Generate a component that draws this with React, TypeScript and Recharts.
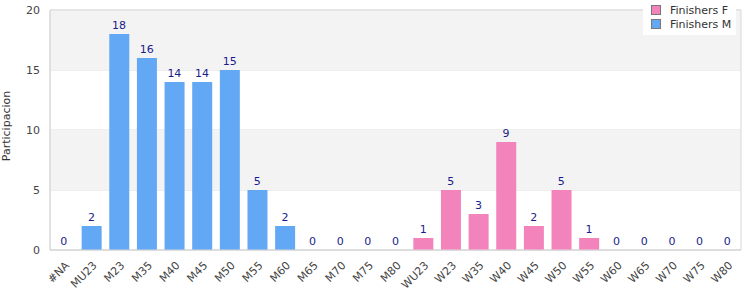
import { ComposedChart, Bar, Line, XAxis, YAxis, CartesianGrid, ReferenceArea, LabelList } from 'recharts';

const categories = ['#NA', 'MU23', 'M23', 'M35', 'M40', 'M45', 'M50', 'M55', 'M60', 'M65', 'M70', 'M75', 'M80',
  'WU23', 'W23', 'W35', 'W40', 'W45', 'W50', 'W55', 'W60', 'W65', 'W70', 'W75', 'W80'];
const finishersF = [0, 0, 0, 0, 0, 0, 0, 0, 0, 0, 0, 0, 0, 1, 5, 3, 9, 2, 5, 1, 0, 0, 0, 0, 0];
const finishersM = [0, 2, 18, 16, 14, 14, 15, 5, 2, 0, 0, 0, 0, 0, 0, 0, 0, 0, 0, 0, 0, 0, 0, 0, 0];
const yTicks = [0, 5, 10, 15, 20];

const data = categories.map((c, i) => ({ cat: c, f: finishersF[i], m: finishersM[i], total: finishersF[i] + finishersM[i] }));

const FONT = 'DejaVu Sans, sans-serif';

function LegendBox() {
  const items = [
    { name: 'Finishers F', color: '#f283bb' },
    { name: 'Finishers M', color: '#62a8f5' },
  ];
  return (
    <div style={{ position: 'absolute', left: 643, top: 0, width: 93, background: '#fff', padding: '3px 0 4px 8px', boxSizing: 'border-box', fontFamily: FONT, fontSize: 11, color: '#333' }}>
      {items.map((it) => (
        <div key={it.name} style={{ display: 'flex', alignItems: 'center', height: 14 }}>
          <span style={{ width: 8, height: 8, background: it.color, border: '1px solid #777', marginRight: 9, display: 'inline-block' }} />
          {it.name}
        </div>
      ))}
    </div>
  );
}

function XTick(props: any) {
  const { x, y, payload } = props;
  return (
    <text x={x + 4} y={y + 6} transform={`rotate(-45, ${x + 4}, ${y + 6})`} textAnchor="end" dominantBaseline="middle"
      fontSize={11} fontFamily={FONT} fill="#444">
      {payload.value}
    </text>
  );
}

function YLabel(props: any) {
  const vb = props.viewBox || {};
  const cy = (vb.y || 10) + (vb.height || 240) / 2 - 4;
  return (
    <text x={7} y={cy} transform={`rotate(-90, 7, ${cy})`} textAnchor="middle" dominantBaseline="middle"
      fontSize={11} fontFamily={FONT} fill="#333">
      Participacion
    </text>
  );
}

export default function App() {
  return (
    <div style={{ position: 'absolute', left: 0, top: 0, width: 750, height: 300 }}>
      <ComposedChart width={750} height={300} data={data} margin={{ top: 10, right: 9, left: 0, bottom: 0 }}>
        <ReferenceArea y1={15} y2={20} fill="#f3f3f3" fillOpacity={1} stroke="none" />
        <ReferenceArea y1={5} y2={10} fill="#f3f3f3" fillOpacity={1} stroke="none" />
        <CartesianGrid vertical={false} stroke="#dedede" strokeDasharray="" />
        <ReferenceArea y1={0} y2={20} fill="none" stroke="#d8d8d8" />
        <XAxis dataKey="cat" interval={0} tickLine={false} axisLine={{ stroke: '#d8d8d8' }} height={50} tick={<XTick />} />
        <YAxis domain={[0, 20]} ticks={yTicks} width={50} tickLine={false} axisLine={{ stroke: '#d8d8d8' }}
          tick={{ fontSize: 11, fontFamily: FONT, fill: '#444' }} tickMargin={4}
          label={<YLabel />} />
        <Bar dataKey="f" name="Finishers F" stackId="a" fill="#f283bb" barSize={20} isAnimationActive={false} />
        <Bar dataKey="m" name="Finishers M" stackId="a" fill="#62a8f5" barSize={20} isAnimationActive={false} />
        <Line dataKey="total" stroke="none" dot={false} activeDot={false} legendType="none" isAnimationActive={false}>
          <LabelList dataKey="total" position="top" offset={5}
            style={{ fontSize: 11, fontFamily: FONT, fill: '#1c1c8c' }} />
        </Line>
      </ComposedChart>
      <LegendBox />
    </div>
  );
}
